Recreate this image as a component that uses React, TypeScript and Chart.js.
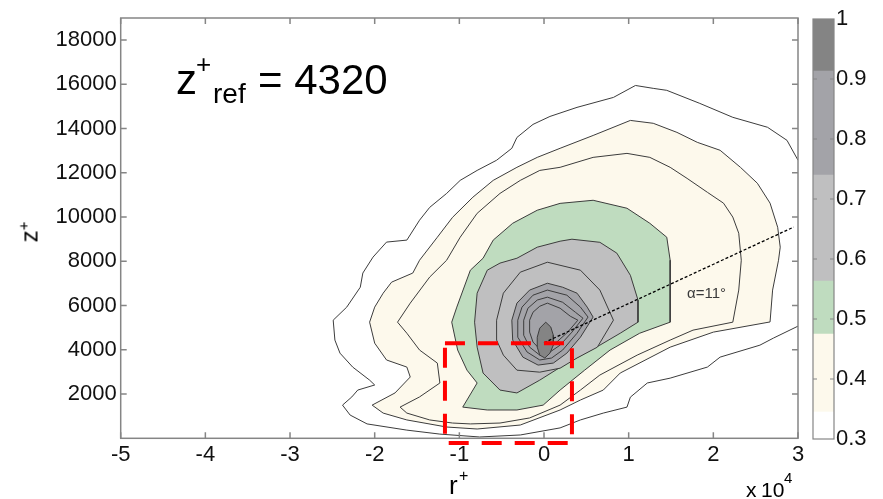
import React, { useEffect, useRef } from 'react';
import { Chart, registerables } from 'chart.js';

Chart.register(...registerables);

// ---------- axis ticks ----------
const X_TICKS = [-5, -4, -3, -2, -1, 0, 1, 2, 3];
const Y_TICKS = [2000, 4000, 6000, 8000, 10000, 12000, 14000, 16000, 18000];
const CB_TICKS = [0.3, 0.4, 0.5, 0.6, 0.7, 0.8, 0.9, 1];

// ---------- colour-bar levels ----------
const CB_LEVELS = [0.3, 0.345, 0.475, 0.563, 0.74, 0.913, 1];

// ---------- contour lines (x in units of 1e4, z+) ----------
const contourA = [
  [3.0, 12570], [2.87, 13470], [2.64, 14060], [2.23, 14510], [1.84, 15140], [1.45, 15730], [1.29, 15820],
  [1.08, 15950], [0.82, 15410], [0.39, 14960], [0.07, 14550], [-0.13, 14190], [-0.32, 13600], [-0.38, 13110],
  [-0.56, 12570], [-0.79, 12110], [-0.99, 11660], [-1.15, 11070], [-1.35, 10440], [-1.47, 9860], [-1.62, 8960],
  [-1.86, 8870], [-2.02, 8190], [-2.14, 7470], [-2.17, 6830], [-2.33, 5930], [-2.49, 5340], [-2.47, 4440],
  [-2.41, 3850], [-2.26, 3220], [-2.06, 2630], [-2.0, 2410], [-2.2, 2180], [-2.27, 1870], [-2.38, 1500],
  [-2.29, 1050], [-2.09, 650], [-1.62, 370], [-1.23, 190], [-0.76, 60], [-0.28, 150], [0.19, 470],
  [0.43, 830], [0.7, 1140], [0.98, 1410], [1.02, 1860], [1.22, 2500], [1.49, 2720], [1.93, 3220],
  [2.08, 3670], [2.55, 4210], [2.71, 4530], [3.0, 5070],
];
const contourB = [
  [0.19, 13110], [0.58, 13690], [1.02, 14370], [1.29, 14240], [1.57, 13830], [1.81, 13380], [2.08, 13020],
  [2.32, 12250], [2.52, 11530], [2.67, 10630], [2.76, 9540], [2.79, 8640], [2.77, 8050], [2.7, 6700],
  [2.67, 5260], [2.0, 4800], [1.49, 4120], [0.9, 2950], [0.7, 2180], [0.43, 1730], [0.19, 1280],
  [-0.28, 600], [-0.79, 420], [-1.15, 510], [-1.62, 830], [-1.9, 1140], [-2.03, 1500], [-1.76, 2050],
  [-1.58, 2770], [-1.62, 3220], [-1.86, 3540], [-2.0, 4300], [-2.06, 5250], [-2.0, 5930], [-1.9, 6560],
  [-1.8, 7060], [-1.55, 7470], [-1.47, 8050], [-1.26, 9090], [-1.08, 9990], [-0.84, 10900], [-0.6, 11660],
  [-0.32, 12250], [-0.08, 12700],
];
const contourC = [
  [0.19, 12250], [0.58, 12700], [0.98, 12880], [1.25, 12700], [1.49, 12250], [1.69, 11750], [1.93, 11120],
  [2.12, 10630], [2.23, 10000], [2.3, 9270], [2.33, 8050], [2.3, 6700], [2.23, 5250], [1.76, 4890],
  [1.49, 4440], [1.1, 3760], [0.66, 2860], [0.43, 2180], [0.19, 1500], [-0.17, 920], [-0.52, 690],
  [-0.87, 650], [-1.08, 690], [-1.35, 830], [-1.62, 1140], [-1.7, 1410], [-1.47, 1870], [-1.23, 2500],
  [-1.26, 3400], [-1.47, 3990], [-1.62, 4750], [-1.73, 5250], [-1.58, 6110], [-1.35, 7290], [-1.15, 8050],
  [-0.99, 9090], [-0.79, 10170], [-0.52, 11070], [-0.28, 11660], [-0.05, 12110],
];
const contourD = [
  [0.19, 10620], [0.58, 10760], [0.98, 10400], [1.25, 9720], [1.45, 9090], [1.49, 8050], [1.49, 5250],
  [1.13, 4750], [0.78, 3990], [0.48, 3080], [0.19, 2180], [-0.01, 1500], [-0.32, 1280], [-0.67, 1280],
  [-0.96, 1410], [-0.79, 2500], [-0.91, 3080], [-1.02, 3990], [-1.09, 5250], [-1.03, 5930], [-0.87, 7600],
  [-0.72, 8140], [-0.6, 8960], [-0.37, 9720], [-0.08, 10310],
];
const contourE = [
  [0.19, 8910], [0.33, 9000], [0.66, 8860], [0.86, 8370], [1.02, 7370], [1.11, 6250], [1.11, 5250],
  [0.9, 4750], [0.66, 4210], [0.27, 3400], [-0.05, 2630], [-0.32, 2050], [-0.52, 2180], [-0.72, 2950],
  [-0.79, 4120], [-0.82, 5250], [-0.79, 6560], [-0.67, 7600], [-0.52, 7920], [-0.32, 8140], [-0.08, 8640],
];
const contourF = [
  [0.04, 7960], [0.43, 7600], [0.66, 6700], [0.82, 5340], [0.63, 4120], [0.39, 3630], [0.19, 3170],
  [-0.05, 2990], [-0.32, 3080], [-0.48, 3760], [-0.56, 4440], [-0.56, 5340], [-0.48, 6560], [-0.28, 7510],
];
const contourG = [
  [0.04, 7010], [0.22, 6830], [0.39, 6560], [0.51, 5930], [0.58, 5480], [0.43, 4570], [0.27, 3850],
  [0.11, 3400], [-0.07, 3310], [-0.25, 3670], [-0.37, 4440], [-0.38, 5340], [-0.32, 6110], [-0.17, 6700],
];
const contourH = [
  [0.04, 6700], [0.27, 6470], [0.43, 5930], [0.52, 5480], [0.39, 4750], [0.22, 3990], [0.09, 3630],
  [-0.05, 3540], [-0.2, 3900], [-0.31, 4570], [-0.31, 5340], [-0.26, 5930], [-0.13, 6470],
];
const contourI = [
  [0.04, 6380], [0.22, 6150], [0.37, 5700], [0.46, 5430], [0.33, 4800], [0.19, 4210], [0.07, 3900],
  [-0.05, 3760], [-0.17, 4120], [-0.24, 4660], [-0.24, 5340], [-0.19, 5880], [-0.08, 6250],
];
const contourJ = [
  [0.04, 6110], [0.19, 5880], [0.31, 5520], [0.4, 5340], [0.28, 4800], [0.15, 4350], [0.05, 4120],
  [-0.05, 4030], [-0.13, 4350], [-0.17, 4800], [-0.17, 5340], [-0.13, 5700], [-0.05, 5970],
];
const contourK = [
  [0.02, 5250], [0.08, 5030], [0.11, 4660], [0.11, 4210], [0.07, 3850], [0.01, 3630], [-0.05, 3760],
  [-0.08, 4120], [-0.08, 4570], [-0.05, 4980],
];

const REF_LINE = [[0, 4320], [2.95, 9550]];
const ZOOM_BOX = [[-1.17, 4300], [0.33, 4300], [0.33, -210], [-1.17, -210]];

// ---------- styles ----------
const FONT = '"Liberation Sans", Arial, Helvetica, sans-serif';
const CREAM = '#fdf9ec';
const GREEN = '#bfdcbf';
const LIGHT = '#bfbfc0';
const MED = '#a3a3a8';
const DARK = '#848484';
const CB_COLORS = ['#ffffff', CREAM, GREEN, LIGHT, MED, DARK];
const LINE = '#3c3c3c';
const FRAME = '#858585';
const TEXT = '#111111';

const CONTOURS = [
  { pts: contourA, fill: null, closed: false },
  { pts: contourB, fill: CREAM, closed: true },
  { pts: contourC, fill: CREAM, closed: true },
  { pts: contourD, fill: GREEN, closed: true },
  { pts: contourE, fill: LIGHT, closed: true },
  { pts: contourF, fill: LIGHT, closed: true },
  { pts: contourG, fill: MED, closed: true },
  { pts: contourH, fill: MED, closed: true },
  { pts: contourI, fill: MED, closed: true },
  { pts: contourJ, fill: MED, closed: true },
  { pts: contourK, fill: DARK, closed: true },
];

const toXY = (arr: number[][], close: boolean) => {
  const d = arr.map(([x, y]) => ({ x, y }));
  if (close) d.push({ x: arr[0][0], y: arr[0][1] });
  return d;
};

const mainFrame = {
  id: 'mainFrame',
  afterDatasetsDraw(chart: any) {
    const { ctx, chartArea: a, scales } = chart;
    ctx.save();
    ctx.strokeStyle = FRAME;
    ctx.lineWidth = 1.5;
    ctx.strokeRect(a.left, a.top, a.right - a.left, a.bottom - a.top);
    ctx.beginPath();
    const L = 6;
    for (const v of X_TICKS) {
      const x = scales.x.getPixelForValue(v);
      ctx.moveTo(x, a.bottom); ctx.lineTo(x, a.bottom - L);
      ctx.moveTo(x, a.top); ctx.lineTo(x, a.top + L);
    }
    for (const v of Y_TICKS) {
      const y = scales.y.getPixelForValue(v);
      ctx.moveTo(a.left, y); ctx.lineTo(a.left + L, y);
      ctx.moveTo(a.right, y); ctx.lineTo(a.right - L, y);
    }
    ctx.stroke();
    ctx.restore();
  },
};

const cbFrame = {
  id: 'cbFrame',
  afterDatasetsDraw(chart: any) {
    const { ctx, chartArea: a, scales } = chart;
    ctx.save();
    ctx.strokeStyle = FRAME;
    ctx.lineWidth = 1.2;
    ctx.strokeRect(a.left, a.top, a.right - a.left, a.bottom - a.top);
    ctx.beginPath();
    const L = 4;
    for (const v of CB_TICKS.slice(1, -1)) {
      const y = scales.y.getPixelForValue(v);
      ctx.moveTo(a.left, y); ctx.lineTo(a.left + L, y);
      ctx.moveTo(a.right, y); ctx.lineTo(a.right - L, y);
    }
    ctx.stroke();
    ctx.restore();
  },
};

const T = (props: { left: number; top: number; size: number; children: any; color?: string; style?: any }) => (
  <span
    style={{
      position: 'absolute',
      left: props.left,
      top: props.top,
      fontSize: props.size,
      lineHeight: `${props.size}px`,
      whiteSpace: 'nowrap',
      color: props.color || '#000',
      fontFamily: FONT,
      ...(props.style || {}),
    }}
  >
    {props.children}
  </span>
);

export default function App() {
  const mainRef = useRef<HTMLCanvasElement>(null);
  const cbRef = useRef<HTMLCanvasElement>(null);

  useEffect(() => {
    const datasets: any[] = CONTOURS.map((c, i) => ({
      data: toXY(c.pts, c.closed),
      showLine: true,
      fill: c.fill ? 'shape' : false,
      backgroundColor: c.fill || 'transparent',
      borderColor: LINE,
      borderWidth: 1,
      pointRadius: 0,
      pointHoverRadius: 0,
      order: 40 - i,
    }));
    datasets.push({
      data: toXY(REF_LINE, false),
      showLine: true,
      fill: false,
      borderColor: '#000',
      borderWidth: 1.3,
      borderDash: [3, 2],
      pointRadius: 0,
      order: 2,
    });
    datasets.push({
      data: toXY(ZOOM_BOX, true),
      showLine: true,
      fill: false,
      borderColor: '#ff0000',
      borderWidth: 4,
      borderDash: [20, 13],
      pointRadius: 0,
      clip: false,
      order: 1,
    });

    const main = new Chart(mainRef.current as HTMLCanvasElement, {
      type: 'scatter',
      data: { datasets },
      options: {
        animation: false,
        responsive: false,
        events: [],
        layout: { padding: { left: 0, top: 18, right: 85, bottom: 0 } },
        plugins: { legend: { display: false }, tooltip: { enabled: false } },
        scales: {
          x: {
            type: 'linear',
            min: -5,
            max: 3,
            afterBuildTicks: (s: any) => { s.ticks = X_TICKS.map((v) => ({ value: v })); },
            afterFit: (s: any) => { s.height = 60.7; },
            grid: { display: false, drawTicks: false },
            border: { display: false },
            ticks: { padding: 3, autoSkip: false, maxRotation: 0, color: TEXT, font: { size: 22, family: FONT } },
          },
          y: {
            type: 'linear',
            min: 0,
            max: 19000,
            afterBuildTicks: (s: any) => { s.ticks = Y_TICKS.map((v) => ({ value: v })); },
            afterFit: (s: any) => { s.width = 120.7; },
            grid: { display: false, drawTicks: false },
            border: { display: false },
            ticks: { padding: 4, autoSkip: false, color: TEXT, font: { size: 22, family: FONT }, callback: (v: any) => String(v) },
          },
        },
      } as any,
      plugins: [mainFrame],
    });

    const bands = CB_COLORS.map((col, i) => ({
      data: [[CB_LEVELS[i], CB_LEVELS[i + 1]]],
      backgroundColor: col,
      borderWidth: 0,
      barPercentage: 1,
      categoryPercentage: 1,
      grouped: false,
    }));

    const cb = new Chart(cbRef.current as HTMLCanvasElement, {
      type: 'bar',
      data: { labels: [''], datasets: bands as any },
      options: {
        animation: false,
        responsive: false,
        events: [],
        layout: { padding: { left: 23, top: 19, right: 0, bottom: 60 } },
        plugins: { legend: { display: false }, tooltip: { enabled: false } },
        scales: {
          x: { display: false },
          y: {
            position: 'right',
            min: 0.3,
            max: 1,
            afterBuildTicks: (s: any) => { s.ticks = CB_TICKS.map((v) => ({ value: v })); },
            afterFit: (s: any) => { s.width = 49; },
            grid: { display: false, drawTicks: false },
            border: { display: false },
            ticks: {
              padding: 2,
              color: TEXT,
              font: { size: 22, family: FONT },
              callback: (v: any) => (Number(v) === 1 ? '1' : Number(v).toFixed(1)),
            },
          },
        },
      } as any,
      plugins: [cbFrame],
    });

    return () => {
      main.destroy();
      cb.destroy();
    };
  }, []);

  return (
    <div
      style={{
        position: 'absolute',
        left: 0,
        top: 0,
        width: 883,
        height: 499,
        overflow: 'hidden',
        background: '#fff',
        fontFamily: FONT,
      }}
    >
      <canvas ref={mainRef} width={883} height={499} style={{ position: 'absolute', left: 0, top: 0 }} />
      <canvas ref={cbRef} width={93} height={499} style={{ position: 'absolute', left: 790, top: 0 }} />

      {/* title */}
      <T left={176} top={59.4} size={42}>z</T>
      <T left={196} top={50.6} size={26}>+</T>
      <T left={213} top={80} size={28}>ref</T>
      <T left={258} top={59.4} size={42}>= 4320</T>

      {/* annotation */}
      <T left={687} top={285} size={15} color="#3a3a3a">α=11°</T>

      {/* y axis label */}
      <div
        style={{
          position: 'absolute',
          left: 31,
          top: 232,
          transform: 'translate(-50%, -50%) rotate(-90deg)',
          fontFamily: FONT,
          fontSize: 24,
          lineHeight: '24px',
          whiteSpace: 'nowrap',
          color: '#000',
        }}
      >
        z<span style={{ fontSize: 15, position: 'relative', top: -9 }}>+</span>
      </div>

      {/* x axis label */}
      <T left={449} top={472} size={26}>r</T>
      <T left={459} top={468} size={16}>+</T>

      {/* multiplier */}
      <T left={746} top={479} size={21}>x</T>
      <T left={761} top={479} size={21}>10</T>
      <T left={784} top={470} size={15}>4</T>
    </div>
  );
}
